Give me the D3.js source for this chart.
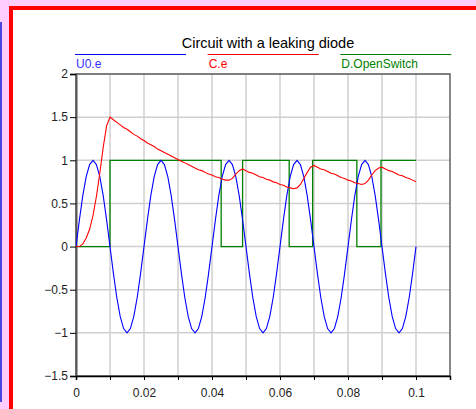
<!DOCTYPE html>
<html>
<head>
<meta charset="utf-8">
<script src="https://cdn.jsdelivr.net/npm/d3@7"></script>
<style>
  html, body { margin: 0; padding: 0; background: #ffccff; overflow: hidden; }
  svg { display: block; }
</style>
</head>
<body>
<script>
const W = 476, H = 409;

// sample step of the simulation output (s)
const dt = 0.001;

// U0.e at every dt
const u0 = [
  0, 0.31, 0.59, 0.81, 0.95, 1, 0.95, 0.81, 0.59, 0.31,
  0, -0.31, -0.59, -0.81, -0.95, -1, -0.95, -0.81, -0.59, -0.31,
  0, 0.31, 0.59, 0.81, 0.95, 1, 0.95, 0.81, 0.59, 0.31,
  0, -0.31, -0.59, -0.81, -0.95, -1, -0.95, -0.81, -0.59, -0.31,
  0, 0.31, 0.59, 0.81, 0.95, 1, 0.95, 0.81, 0.59, 0.31,
  0, -0.31, -0.59, -0.81, -0.95, -1, -0.95, -0.81, -0.59, -0.31,
  0, 0.31, 0.59, 0.81, 0.95, 1, 0.95, 0.81, 0.59, 0.31,
  0, -0.31, -0.59, -0.81, -0.95, -1, -0.95, -0.81, -0.59, -0.31,
  0, 0.31, 0.59, 0.81, 0.95, 1, 0.95, 0.81, 0.59, 0.31,
  0, -0.31, -0.59, -0.81, -0.95, -1, -0.95, -0.81, -0.59, -0.31,
  0
];

// C.e at every dt
const ce = [
  0, 0, 0.03, 0.1, 0.2, 0.36, 0.58, 0.85, 1.15, 1.4,
  1.5, 1.47, 1.44, 1.41, 1.38, 1.36, 1.33, 1.3, 1.28, 1.25,
  1.23, 1.2, 1.18, 1.16, 1.13, 1.11, 1.09, 1.07, 1.05, 1.03,
  1.01, 0.99, 0.97, 0.95, 0.93, 0.91, 0.89, 0.88, 0.86, 0.84,
  0.83, 0.81, 0.8, 0.78, 0.77, 0.77, 0.79, 0.84, 0.88, 0.9,
  0.88, 0.86, 0.85, 0.83, 0.81, 0.8, 0.78, 0.77, 0.75, 0.74,
  0.72, 0.71, 0.69, 0.68, 0.67, 0.68, 0.72, 0.79, 0.86, 0.92,
  0.94, 0.92, 0.9, 0.89, 0.87, 0.85, 0.84, 0.82, 0.8, 0.79,
  0.77, 0.76, 0.74, 0.73, 0.72, 0.73, 0.77, 0.83, 0.88, 0.91,
  0.92, 0.9, 0.88, 0.87, 0.85, 0.83, 0.82, 0.8, 0.79, 0.77,
  0.75
];

// D.OpenSwitch, switching instants and the value after each one
const swTimes = [0, 0.01, 0.0427, 0.049, 0.0627, 0.0696, 0.0826, 0.0897, 0.1];
const swValues = [0, 1, 0, 1, 0, 1, 0, 1, 1];

const xTicks = [0, 0.02, 0.04, 0.06, 0.08, 0.1];
const xMinor = [0.01, 0.02, 0.03, 0.04, 0.05, 0.06, 0.07, 0.08, 0.09, 0.1];
const yTicks = [2, 1.5, 1, 0.5, 0, -0.5, -1, -1.5];

const seriesNames = ['U0.e', 'C.e', 'D.OpenSwitch'];
const seriesColors = ['#0000ff', '#ff0000', '#008000'];
const title = 'Circuit with a leaking diode';

const plot = { left: 76, right: 450, top: 74, bottom: 376 };

const svg = d3.select('body').append('svg')
  .attr('width', W)
  .attr('height', H);

// page decoration
svg.append('rect').attr('width', W).attr('height', H).attr('fill', '#ffccff');
svg.append('rect').attr('x', 0).attr('y', 22).attr('width', 2).attr('height', 380).attr('fill', '#4848e0');
svg.append('rect')
  .attr('x', 11).attr('y', 8)
  .attr('width', W + 20).attr('height', H + 20)
  .attr('fill', '#ffffff')
  .attr('stroke', '#ff0000')
  .attr('stroke-width', 4);

const x = d3.scaleLinear().domain([0, 0.11]).range([plot.left, plot.right]);
const y = d3.scaleLinear().domain([-1.5, 2]).range([plot.bottom, plot.top]);

// grid
svg.append('g').selectAll('line').data(xMinor).enter().append('line')
  .attr('x1', d => x(d)).attr('x2', d => x(d))
  .attr('y1', plot.top).attr('y2', plot.bottom)
  .attr('stroke', '#cfcfcf').attr('stroke-width', 1.5);
svg.append('g').selectAll('line').data(yTicks).enter().append('line')
  .attr('x1', plot.left).attr('x2', plot.right)
  .attr('y1', d => y(d)).attr('y2', d => y(d))
  .attr('stroke', '#cfcfcf').attr('stroke-width', 1.5);

// frame
svg.append('rect')
  .attr('x', plot.left).attr('y', plot.top)
  .attr('width', plot.right - plot.left).attr('height', plot.bottom - plot.top)
  .attr('fill', 'none').attr('stroke', '#606060').attr('stroke-width', 1.5);

// axes
const font = '"Liberation Sans", Arial, sans-serif';

const yAxis = svg.append('g')
  .attr('transform', `translate(${plot.left},0)`)
  .call(d3.axisLeft(y).tickValues(yTicks).tickSize(6).tickPadding(2).tickFormat(d3.format('')));
yAxis.select('.domain').attr('stroke', '#555').attr('stroke-width', 2);
yAxis.selectAll('.tick line').attr('stroke', '#000');
yAxis.selectAll('text').attr('font-family', font).attr('font-size', 12).attr('fill', '#222');

const xAxis = svg.append('g')
  .attr('transform', `translate(0,${plot.bottom})`)
  .call(d3.axisBottom(x).tickValues(xMinor).tickSize(4).tickFormat(''));
xAxis.select('.domain').attr('stroke', '#000').attr('stroke-width', 1.5);
xAxis.selectAll('.tick line').attr('stroke', '#000');

const xLab = svg.append('g')
  .attr('transform', `translate(0,${plot.bottom})`)
  .call(d3.axisBottom(x).tickValues(xTicks).tickSize(4).tickPadding(8).tickFormat(d3.format('')));
xLab.select('.domain').remove();
xLab.selectAll('.tick line').attr('stroke', '#000');
xLab.selectAll('text').attr('font-family', font).attr('font-size', 12).attr('fill', '#222');

// curves
const clip = svg.append('clipPath').attr('id', 'clip').append('rect')
  .attr('x', plot.left).attr('y', plot.top)
  .attr('width', plot.right - plot.left).attr('height', plot.bottom - plot.top);

const lineGen = d3.line().x(d => x(d[0])).y(d => y(d[1]));
const stepGen = d3.line().x(d => x(d[0])).y(d => y(d[1])).curve(d3.curveStepAfter);

const u0Pts = u0.map((v, i) => [i * dt, v]);
const cePts = ce.map((v, i) => [i * dt, v]);
const swPts = swTimes.map((t, i) => [t, swValues[i]]);

const g = svg.append('g').attr('clip-path', 'url(#clip)');
g.append('path').datum(swPts).attr('d', stepGen)
  .attr('fill', 'none').attr('stroke', seriesColors[2]).attr('stroke-width', 1.3);
g.append('path').datum(u0Pts).attr('d', lineGen)
  .attr('fill', 'none').attr('stroke', seriesColors[0]).attr('stroke-width', 1.1);
g.append('path').datum(cePts).attr('d', lineGen)
  .attr('fill', 'none').attr('stroke', seriesColors[1]).attr('stroke-width', 1.1);

// title
svg.append('text')
  .attr('x', 268).attr('y', 48)
  .attr('text-anchor', 'middle')
  .attr('font-family', font).attr('font-size', 14.5)
  .attr('fill', '#000')
  .text(title);

// legend
const legX = d3.scaleBand().domain(seriesNames).range([75, 473]).paddingInner(0);
const leg = svg.append('g').selectAll('g').data(seriesNames).enter().append('g')
  .attr('transform', d => `translate(${legX(d)},0)`);
leg.append('line')
  .attr('x1', 0).attr('x2', 111)
  .attr('y1', 54.5).attr('y2', 54.5)
  .attr('stroke', (d, i) => seriesColors[i]).attr('stroke-width', 1);
leg.append('text')
  .attr('x', 1).attr('y', 68)
  .attr('font-family', font).attr('font-size', 12)
  .attr('fill', (d, i) => i === 0 ? '#3030ff' : seriesColors[i])
  .text(d => d);
</script>
</body>
</html>
